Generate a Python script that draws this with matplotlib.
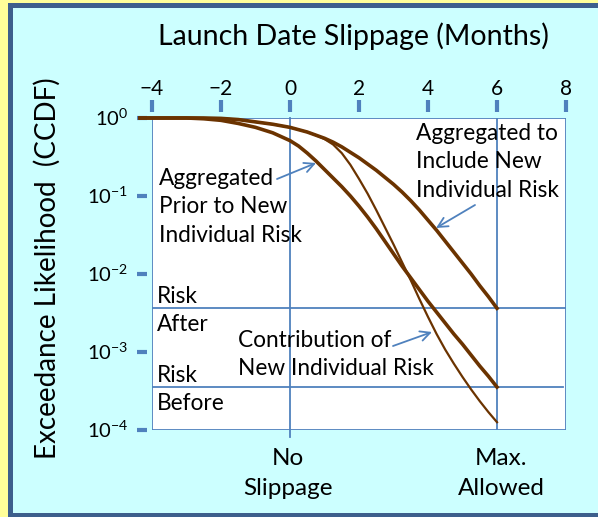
import numpy as np
import matplotlib.pyplot as plt
from matplotlib.patches import Rectangle
from matplotlib.transforms import blended_transform_factory

plt.rcParams['font.family'] = ['Lato', 'DejaVu Sans']
plt.rcParams['mathtext.fontset'] = 'custom'
plt.rcParams['mathtext.rm'] = 'Lato'

# slippage in months and log10 of exceedance likelihood
x_months = [-4.35, -4, -3.5, -3, -2.5, -2, -1.5, -1, -0.5,
            0, 0.25, 0.5, 0.75, 1, 1.25, 1.5, 1.75, 2, 2.25, 2.5, 2.75, 3,
            3.25, 3.5, 3.75, 4, 4.25, 4.5, 4.75, 5, 5.25, 5.5, 5.75, 6]
log_with_new = [0, 0, 0, 0, 0, -0.005, -0.02, -0.05, -0.08,
                -0.12, -0.15, -0.18, -0.22, -0.26, -0.31, -0.37, -0.44, -0.51,
                -0.59, -0.67, -0.76, -0.85, -0.95, -1.06, -1.18, -1.31, -1.44,
                -1.58, -1.72, -1.86, -2.0, -2.15, -2.29, -2.44]
log_prior = [0, 0, 0, 0, -0.01, -0.03, -0.07, -0.12, -0.19,
             -0.29, -0.36, -0.45, -0.55, -0.66, -0.77, -0.88, -1.0, -1.13,
             -1.27, -1.42, -1.58, -1.74, -1.9, -2.05, -2.2, -2.35, -2.49,
             -2.63, -2.77, -2.9, -3.04, -3.18, -3.31, -3.45]
log_contrib = [0, 0, 0, 0, 0, -0.005, -0.02, -0.05, -0.08,
               -0.12, -0.15, -0.18, -0.22, -0.27, -0.34, -0.45, -0.6, -0.78,
               -0.97, -1.18, -1.4, -1.62, -1.85, -2.08, -2.32, -2.55, -2.77,
               -2.97, -3.15, -3.32, -3.48, -3.63, -3.77, -3.9]

risk_after = 10 ** -2.44
risk_before = 10 ** -3.45

x_ticks = [-4, -2, 0, 2, 4, 6, 8]
x_tick_labels = ['\u22124', '\u22122', '0', '2', '4', '6', '8']
y_exps = [0, -1, -2, -3, -4]

W, H = 598, 517
BLUE = '#4F81BD'
BROWN = '#6B3300'

fig = plt.figure(figsize=(W / 100, H / 100), dpi=100)
fig.patch.set_facecolor('#FFFF99')


def fx(px):
    return px / W


def fy(py):
    return 1 - py / H


# slide frame
fig.add_artist(Rectangle((fx(8), fy(530)), fx(620) - fx(8), fy(3) - fy(530),
                         transform=fig.transFigure, facecolor='#3D5F8C',
                         edgecolor='none', zorder=0))
fig.add_artist(Rectangle((fx(13), fy(513)), fx(620) - fx(13), fy(8) - fy(513),
                         transform=fig.transFigure, facecolor='#CCFFFF',
                         edgecolor='none', zorder=0))

ax = fig.add_axes([fx(152), fy(430), (566 - 152) / W, (430 - 118) / H])
ax.set_xlim(-4, 8)
ax.set_yscale('log')
ax.set_ylim(1e-4, 1)
ax.set_axis_off()


def pos(px, py):
    # pixel position to data position
    return (px - 152) / 34.5 - 4, 10 ** (-(py - 118) / 78)


ax.add_patch(Rectangle((-4, 1e-4), 12, 1 - 1e-4, facecolor='white',
                       edgecolor=BLUE, lw=1.3, zorder=1))
ax.plot([6, 6], [1e-4, 1], color=BLUE, lw=1.3, zorder=2)
ax.plot([0, 0], [pos(0, 437)[1], 1], color=BLUE, lw=1.3, zorder=2, clip_on=False)
ax.plot([-4, 8], [risk_after, risk_after], color=BLUE, lw=1.3, zorder=2)
ax.plot([-4, 7.9], [risk_before, risk_before], color=BLUE, lw=1.3, zorder=2)

# ticks sit a little away from the box
tr_top = blended_transform_factory(ax.transData, ax.transAxes)
for v, lab in zip(x_ticks, x_tick_labels):
    ax.plot([v, v], [1.019, 1.058], transform=tr_top, color=BLUE, lw=3,
            solid_capstyle='butt', clip_on=False)
    ax.text(v, 1.094, lab, transform=tr_top, ha='center', va='center', fontsize=15)

tr_left = blended_transform_factory(ax.transAxes, ax.transData)
for e in y_exps:
    ax.plot([-0.036, -0.012], [10.0 ** e] * 2, transform=tr_left, color=BLUE,
            lw=3, solid_capstyle='butt', clip_on=False, zorder=2)
    ax.text(-0.058, 10.0 ** e, r'$\mathregular{10^{%d}}$' % e, transform=tr_left,
            ha='right', va='center', fontsize=14.5)

x = np.array(x_months)
ax.plot(x, 10 ** np.array(log_with_new), color=BROWN, lw=2.6, zorder=3, clip_on=False)
ax.plot(x, 10 ** np.array(log_prior), color=BROWN, lw=2.6, zorder=3, clip_on=False)
ax.plot(x, 10 ** np.array(log_contrib), color=BROWN, lw=1.6, zorder=3, clip_on=False)

lines = [
    (159, 185, 'Aggregated'), (159, 213, 'Prior to New'), (159, 242, 'Individual Risk'),
    (416, 140, 'Aggregated to'), (416, 168, 'Include New'), (416, 197, 'Individual Risk'),
    (238, 347, 'Contribution of'), (238, 375, 'New Individual Risk'),
    (157, 303, 'Risk'), (157, 331, 'After'), (157, 382, 'Risk'), (157, 410, 'Before'),
]
for px, py, s in lines:
    ax.text(*pos(px, py), s, ha='left', va='baseline', fontsize=16.3, zorder=4)

for px, py, s in [(288, 465, 'No'), (288, 495, 'Slippage'),
                  (501, 465, 'Max.'), (501, 495, 'Allowed')]:
    ax.text(*pos(px, py), s, ha='center', va='baseline', fontsize=17.5)

arrow = dict(arrowstyle='->,head_length=0.7,head_width=0.35', color=BLUE, lw=1.3,
             shrinkA=0, shrinkB=0)
for tail, tip in [((277, 179), (316, 163)), ((475, 205), (436, 228)),
                  ((393, 346), (432, 332))]:
    ax.annotate('', xy=pos(*tip), xytext=pos(*tail), arrowprops=arrow, zorder=4)

fig.text(fx(353), fy(45), 'Launch Date Slippage (Months)', ha='center',
         va='baseline', fontsize=20.5)
fig.text(fx(47), fy(268), 'Exceedance Likelihood  (CCDF)', rotation=90,
         ha='center', va='center', fontsize=20)

fig.savefig('out.png', dpi=100, facecolor=fig.get_facecolor())
